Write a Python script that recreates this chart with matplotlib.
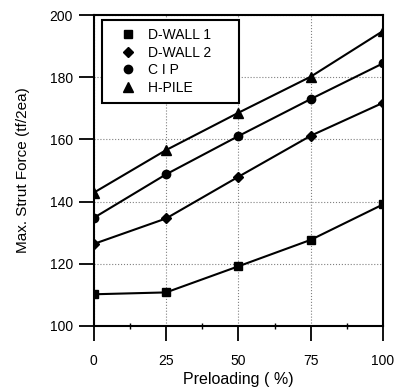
import matplotlib.pyplot as plt
from matplotlib.lines import Line2D
from matplotlib.ticker import MultipleLocator

plt.rcParams["font.family"] = ["Liberation Sans", "DejaVu Sans"]

preload = [0, 25, 50, 75, 100]
dwall1 = [110.2, 110.8, 119.2, 127.7, 139.1]
dwall2 = [126.4, 134.6, 148.0, 161.2, 171.8]
cip = [134.8, 148.8, 161.1, 173.0, 184.5]
hpile = [142.9, 156.6, 168.6, 180.2, 194.9]

series = [
    ("D-WALL 1", dwall1, "s", 5.5),
    ("D-WALL 2", dwall2, "D", 5),
    ("C I P", cip, "o", 6),
    ("H-PILE", hpile, "^", 6.5),
]

fig = plt.figure(figsize=(4.01, 3.89), dpi=100)
ax = fig.add_axes([0.234, 0.162, 0.721, 0.799])

handles = []
for label, vals, mk, ms in series:
    ax.plot(preload, vals, color="black", lw=1.5, marker=mk, ms=ms)
    # legend proxy: invisible line so the marker stays centred in the handle,
    # trailing spaces widen the box on the right
    handles.append(Line2D([], [], color="white", lw=0, marker=mk, ms=ms,
                          mfc="black", mec="black", label=label + "     "))

ax.set_xlim(0, 100)
ax.set_ylim(100, 200)
ax.xaxis.set_major_locator(MultipleLocator(25))
ax.xaxis.set_minor_locator(MultipleLocator(12.5))
ax.yaxis.set_major_locator(MultipleLocator(20))
ax.tick_params(which="major", direction="out", length=11, width=1.3, labelsize=10)
ax.tick_params(axis="y", which="major", pad=4)
ax.tick_params(axis="x", which="major", pad=9)
ax.tick_params(axis="x", which="minor", direction="inout", length=4, width=1)
ax.grid(True, which="major", color="gray", linestyle=":", linewidth=0.8)
for sp in ax.spines.values():
    sp.set_linewidth(1.5)

ax.set_xlabel("Preloading ( %)", fontsize=11.5, labelpad=3)
ax.set_ylabel("Max. Strut Force (tf/2ea)", fontsize=11, labelpad=14)

leg = ax.legend(handles=handles, loc="upper left", bbox_to_anchor=(0.028, 0.985),
                fontsize=10, frameon=True, fancybox=False, edgecolor="black", framealpha=1,
                handlelength=2.5, handletextpad=0.2, labelspacing=0.25,
                borderpad=0.6, borderaxespad=0)
leg.get_frame().set_linewidth(1.5)

fig.savefig("out.png", dpi=100)
